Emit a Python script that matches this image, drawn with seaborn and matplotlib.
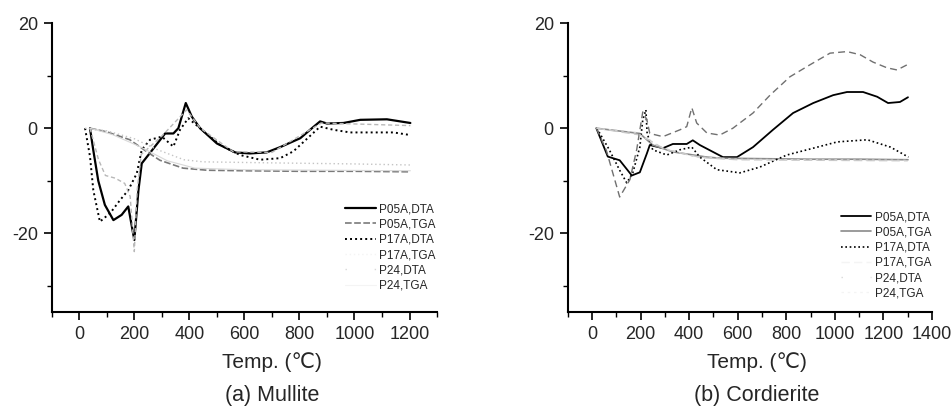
import matplotlib
matplotlib.use("Agg")
import matplotlib.pyplot as plt
import seaborn as sns
import numpy as np
from matplotlib.ticker import MultipleLocator

# ===================== data: (a) Mullite =====================
m_dta05_t = [39, 51, 69, 93, 124, 154, 178, 200, 215, 227, 257, 312, 342, 360, 387, 409, 439,
             500, 566, 620, 681, 730, 803, 852, 875, 900, 960, 1021, 1118, 1203]
m_dta05_y = [0, -4.2, -10, -14.6, -17.5, -16.5, -14.9, -21.3, -11.8, -6.7, -4.7, -1, -1, 0, 4.8, 2.2, 0,
             -2.9, -4.6, -4.8, -4.6, -3.6, -1.9, 0.3, 1.3, 0.9, 1, 1.6, 1.7, 1]
m_tga05_t = [39, 101, 184, 246, 293, 377, 464, 600, 800, 1000, 1203]
m_tga05_y = [0, -0.7, -2.2, -4.5, -6.1, -7.6, -8.0, -8.1, -8.2, -8.2, -8.3]
m_dta17_t = [21, 39, 51, 75, 93, 112, 148, 178, 209, 227, 257, 300, 342, 366, 396, 439, 512, 584,
             657, 730, 778, 875, 924, 984, 1142, 1203]
m_dta17_y = [0, -5.4, -11.8, -17.8, -17, -16.2, -13.7, -11.8, -8.6, -4.1, -2.2, -1.6, -3.5, -0.3, 1.9, 0,
             -3.2, -5.1, -6, -5.7, -4.4, 0.3, -0.3, -0.8, -0.8, -1.3]
m_tga17_t = [21, 100, 200, 280, 380, 450, 700, 1000, 1203]
m_tga17_y = [0, -0.5, -2, -4, -6, -6.4, -6.6, -6.8, -7]
m_dta24_t = [39, 70, 95, 130, 165, 185, 200, 210, 225, 300, 390, 440, 560, 700, 880, 1203]
m_dta24_y = [0, -6, -9, -9.5, -10.5, -13, -23.5, -12, -5, -1.5, 3.5, 0, -4.5, -4.6, 1, 0.5]
m_tga24_t = [39, 120, 220, 320, 420, 600, 900, 1203]
m_tga24_y = [0, -1.2, -3.5, -6.2, -7.6, -7.9, -8.0, -8.1]

# ===================== data: (b) Cordierite =====================
c_dta05_t = [18, 65, 114, 164, 197, 226, 238, 292, 333, 390, 415, 444, 539, 597, 663, 745, 828,
             911, 993, 1050, 1116, 1174, 1219, 1268, 1301]
c_dta05_y = [0, -5.4, -6.1, -9, -8.4, -4.8, -3.2, -3.8, -3.0, -3.0, -2.3, -3.2, -5.5, -5.5, -3.6, -0.3, 2.9,
             4.8, 6.3, 6.9, 6.9, 6, 4.8, 5, 5.9]
c_tga05_t = [18, 197, 250, 333, 473, 526, 700, 900, 1100, 1301]
c_tga05_y = [0, -1, -3.2, -4.5, -5.5, -5.7, -5.8, -5.9, -5.9, -6.0]
c_dta17_t = [20, 70, 114, 143, 168, 197, 209, 222, 227, 250, 308, 362, 411, 444, 514, 609, 691, 802,
             911, 1010, 1134, 1229, 1303]
c_dta17_y = [0, -4, -8, -10.4, -8.5, -3.6, 1.6, 3.5, -1, -4.1, -5.1, -4.1, -3.6, -5.5, -7.9, -8.5, -7.4, -5.1,
             -3.8, -2.6, -2.2, -3.6, -5.5]
c_tga17_t = [20, 200, 300, 450, 600, 900, 1300]
c_tga17_y = [0, -1.3, -4.0, -5.6, -6.0, -6.1, -6.2]
c_dta24_t = [18, 59, 114, 156, 184, 209, 226, 238, 292, 362, 390, 411, 431, 473, 526, 580, 663, 733,
             815, 898, 980, 1050, 1104, 1157, 1215, 1256, 1298]
c_dta24_y = [0, -4.2, -13.1, -9.8, -4.1, 3.1, 1.6, -1, -1.6, -0.3, 0.3, 3.9, 1, -0.9, -1.3, 0, 2.9, 6.3,
             9.8, 12.1, 14.3, 14.6, 14, 12.6, 11.5, 11.1, 12.1]
c_tga24_t = [18, 180, 280, 420, 600, 900, 1300]
c_tga24_y = [0, -0.8, -3.6, -5.4, -5.9, -6.0, -6.1]

labels = ["P05A,DTA", "P05A,TGA", "P17A,DTA", "P17A,TGA", "P24,DTA", "P24,TGA"]

# ===================== style =====================
sns.set_theme(style="ticks")
plt.rcParams['font.family'] = ['Liberation Sans', 'DejaVu Sans']
plt.rcParams['axes.unicode_minus'] = False

fig = plt.figure(figsize=(9.53, 4.09), dpi=100)
ax1 = fig.add_axes([0.0543, 0.2372, 0.4043, 0.706])
ax2 = fig.add_axes([0.5957, 0.2372, 0.3823, 0.706])

# line styles per panel: (color, linestyle, linewidth)
styles_a = [("black", "-", 1.6), ("#7a7a7a", (0, (4, 1.5)), 1.2), ("black", (0, (1, 1.6)), 1.4),
            ("#c4c4c4", (0, (1, 2)), 1.0), ("#b8b8b8", (0, (3, 2)), 1.0), ("#d8d8d8", "-", 0.8)]
styles_b = [("black", "-", 1.3), ("#8a8a8a", "-", 1.2), ("black", (0, (1, 1.6)), 1.2),
            ("#c8c8c8", (0, (6, 3)), 1.0), ("#707070", (0, (5, 3)), 1.0), ("#d0d0d0", (0, (2, 3)), 0.9)]

series_a = [(m_dta05_t, m_dta05_y), (m_tga05_t, m_tga05_y), (m_dta17_t, m_dta17_y),
            (m_tga17_t, m_tga17_y), (m_dta24_t, m_dta24_y), (m_tga24_t, m_tga24_y)]
series_b = [(c_dta05_t, c_dta05_y), (c_tga05_t, c_tga05_y), (c_dta17_t, c_dta17_y),
            (c_tga17_t, c_tga17_y), (c_dta24_t, c_dta24_y), (c_tga24_t, c_tga24_y)]

for ax, series, styles, xmax, xlab_x, caption, leg_pos in [
        (ax1, series_a, styles_a, 1300, 0.2854, "(a) Mullite", (0.362, 0.503)),
        (ax2, series_b, styles_b, 1400, 0.794, "(b) Cordierite", (0.882, 0.484))]:
    for (t, y), (c, ls, lw), lab in zip(series, styles, labels):
        sns.lineplot(x=t, y=y, ax=ax, color=c, linestyle=ls, linewidth=lw, label=lab,
                     sort=False, estimator=None)
    ax.set_xlim(-100, xmax)
    ax.set_ylim(-35, 20)
    ax.xaxis.set_major_locator(MultipleLocator(200))
    ax.xaxis.set_minor_locator(MultipleLocator(100))
    ax.yaxis.set_major_locator(MultipleLocator(20))
    ax.yaxis.set_minor_locator(MultipleLocator(10))
    ax.tick_params(which="major", length=6, width=1.2, labelsize=13, color="black", pad=4)
    ax.tick_params(which="minor", length=3.5, width=1.0, color="black")
    ax.set_xlabel("")
    ax.set_ylabel("")
    sns.despine(ax=ax)
    for s in ["left", "bottom"]:
        ax.spines[s].set_linewidth(1.5)
        ax.spines[s].set_color("black")

    leg = ax.legend(loc="upper left", bbox_to_anchor=leg_pos, bbox_transform=fig.transFigure,
                    frameon=False, fontsize=8.5, handlelength=2.6, handletextpad=0.3,
                    labelspacing=0.28, borderpad=0, borderaxespad=0)
    # the faint series barely show in the legend of the original
    hl = leg.get_lines()
    hl[3].set_color("#f4f4f4")
    hl[4].set_color("#d8d8d8")
    hl[4].set_linestyle((0, (1, 20)))
    hl[5].set_color("#f4f4f4")

    fig.text(xlab_x, 0.1149, "Temp. (℃)", ha="center", va="center", fontsize=15)
    fig.text(xlab_x, 0.032, caption, ha="center", va="center", fontsize=15.5)

fig.savefig("out.png", dpi=100)
plt.close(fig)
